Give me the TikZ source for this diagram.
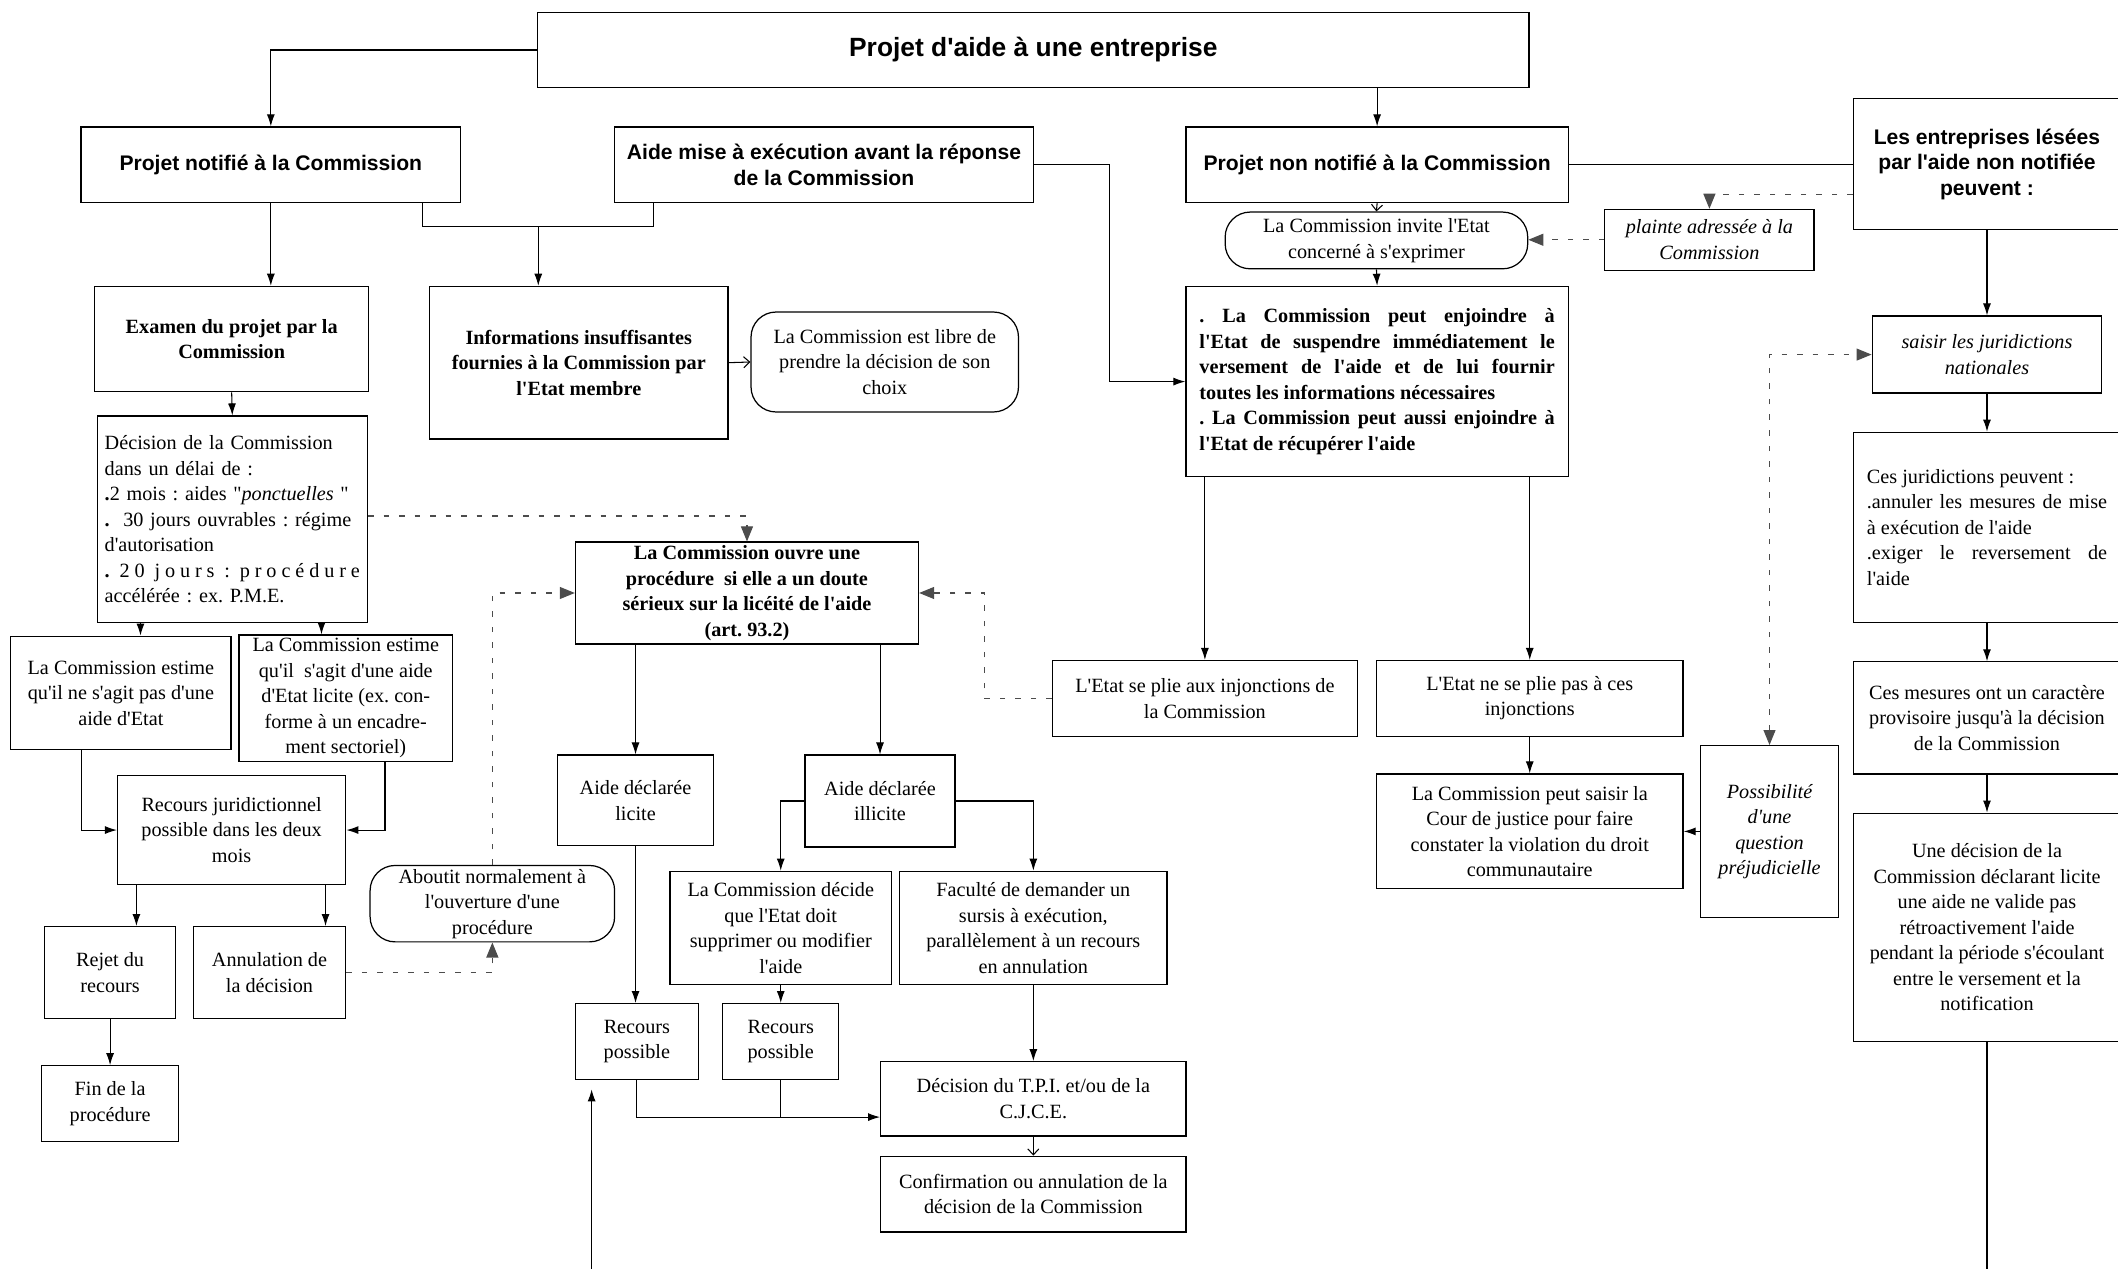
\documentclass[tikz,border=0pt]{standalone}
\usepackage{fontspec}
\setmainfont{Liberation Serif}[Ligatures=TeXOff]
\setsansfont{Liberation Sans}[Ligatures=TeXOff]
\usetikzlibrary{arrows.meta}
\frenchspacing

\newcommand{\pu}{0.027cm}
\tikzset{
  box/.style={draw, rectangle, line width=0.7pt, align=center, inner sep=2pt,
    font=\fontsize{11.5}{14.5}\selectfont},
  head/.style={font=\sffamily\bfseries\fontsize{12}{14.5}\selectfont},
  gras/.style={font=\fontsize{11.5}{14.5}\selectfont\bfseries},
  ital/.style={font=\fontsize{11.5}{14.5}\selectfont\itshape},
  rond/.style={rounded corners=0.5cm},
  fil/.style={line width=0.6pt},
  barb/.style={fil, -{Straight Barb[length=1.2mm,width=2.2mm]}},
  tirets/.style={line width=0.6pt, draw=black!70, dash pattern=on 1.1mm off 2mm,
    -{Triangle[length=3mm,width=2.4mm]}}
}

\begin{document}
\begin{tikzpicture}[x=0.027cm, y=-0.027cm, >={Latex[length=2.4mm,width=1.6mm]}]

\useasboundingbox (0,0) rectangle (1568,939);

\node[box, minimum width=734*\pu, minimum height=56*\pu, font=\sffamily\bfseries\fontsize{15}{18}\selectfont] at (765,37) (titre) {Projet d'aide à une entreprise};

\node[box, minimum width=281*\pu, minimum height=56*\pu, head] at (200.5,122) (notif) {Projet notifié à la Commission};
\node[box, minimum width=310*\pu, minimum height=56*\pu, head] at (610,122) (avant) {Aide mise à exécution avant la réponse\\de la Commission};
\node[box, minimum width=283*\pu, minimum height=56*\pu, head] at (1019.5,122) (nonnotif) {Projet non notifié à la Commission};
\node[box, minimum width=198*\pu, minimum height=97*\pu, head] at (1471,121.5) (lesees) {Les entreprises lésées\\par l'aide non notifiée\\peuvent :};

\node[box, minimum width=224*\pu, minimum height=42*\pu, rond] at (1019,178) (invite) {La Commission invite l'Etat\\concerné à s'exprimer};
\node[box, minimum width=155*\pu, minimum height=45*\pu, ital] at (1265.5,177.5) (plainte) {plainte adressée à la\\Commission};
\node[box, minimum width=283*\pu, minimum height=141*\pu, gras, align=justify, text width=7.1cm] at (1019.5,282.5) (enjoin) {. La Commission peut enjoindre à\linebreak l'Etat de suspendre immédiatement le\linebreak versement de l'aide et de lui fournir\linebreak toutes les informations nécessaires\\. La Commission peut aussi enjoindre à\linebreak l'Etat de récupérer l'aide};

\node[box, minimum width=203*\pu, minimum height=78*\pu, gras] at (171.5,251) (examen) {Examen du projet par la\\Commission};
\node[box, minimum width=221*\pu, minimum height=113*\pu, gras] at (428.5,268.5) (info) {Informations insuffisantes\\fournies à la Commission par\\l'Etat membre};
\node[box, minimum width=198*\pu, minimum height=74*\pu, rond] at (655,268) (libre) {La Commission est libre de\\prendre la décision de son\\choix};

\node[box, minimum width=200*\pu, minimum height=153*\pu, align=left, text width=5.1cm] at (172,384.5) (decision) {Décision de la Commission\\dans un délai de :\\\textbf{.}2 mois : aides "\textit{ponctuelles} "\\\textbf{.}~ 30 jours ouvrables : régime\\d'autorisation\\\makebox[\hsize][s]{\textbf{.}\hfill\hfill 2\hfill 0\hfill\hfill j\hfill o\hfill u\hfill r\hfill s\hfill\hfill :\hfill\hfill p\hfill r\hfill o\hfill c\hfill é\hfill d\hfill u\hfill r\hfill e}\\accélérée : ex. P.M.E.};

\node[box, minimum width=163*\pu, minimum height=84*\pu] at (89.5,513) (estime1) {La Commission estime\\qu'il ne s'agit pas d'une\\aide d'Etat};
\node[box, minimum width=158*\pu, minimum height=92*\pu] at (256,517) (estime2) {La Commission estime\\qu'il~ s'agit d'une aide\\d'Etat licite (ex. con-\\forme à un encadre-\\ment sectoriel)};
\node[box, minimum width=169*\pu, minimum height=81*\pu] at (171.5,614.5) (recours) {Recours juridictionnel\\possible dans les deux\\mois};
\node[box, minimum width=97*\pu, minimum height=68*\pu] at (81.5,720) (rejet) {Rejet du\\recours};
\node[box, minimum width=113*\pu, minimum height=68*\pu] at (199.5,720) (annul) {Annulation de\\la décision};
\node[box, minimum width=101*\pu, minimum height=56*\pu] at (81.5,817) (fin) {Fin de la\\procédure};
\node[box, minimum width=181*\pu, minimum height=56*\pu, rond] at (364.5,669) (aboutit) {Aboutit normalement à\\l'ouverture d'une\\procédure};

\node[box, minimum width=254*\pu, minimum height=70*\pu, gras] at (553,439) (procedure) {La Commission ouvre une\\procédure~ si elle a un doute\\sérieux sur la licéité de l'aide\\(art. 93.2)};
\node[box, minimum width=115*\pu, minimum height=67*\pu] at (470.5,592.5) (licite) {Aide déclarée\\licite};
\node[box, minimum width=111*\pu, minimum height=68*\pu] at (651.5,593) (illicite) {Aide déclarée\\illicite};
\node[box, minimum width=164*\pu, minimum height=84*\pu] at (578,687) (decide) {La Commission décide\\que l'Etat doit\\supprimer ou modifier\\l'aide};
\node[box, minimum width=198*\pu, minimum height=84*\pu] at (765,687) (faculte) {Faculté de demander un\\sursis à exécution,\\parallèlement à un recours\\en annulation};
\node[box, minimum width=91*\pu, minimum height=56*\pu] at (471.5,771) (recpos1) {Recours\\possible};
\node[box, minimum width=86*\pu, minimum height=56*\pu] at (578,771) (recpos2) {Recours\\possible};
\node[box, minimum width=226*\pu, minimum height=55*\pu] at (765,813.5) (tpi) {Décision du T.P.I. et/ou de la\\C.J.C.E.};
\node[box, minimum width=226*\pu, minimum height=56*\pu] at (765,884) (confirm) {Confirmation ou annulation de la\\décision de la Commission};

\node[box, minimum width=226*\pu, minimum height=56*\pu] at (892,517) (etatplie) {L'Etat se plie aux injonctions de\\la Commission};
\node[box, minimum width=227*\pu, minimum height=56*\pu] at (1132.5,517) (etatnon) {L'Etat ne se plie pas à ces\\injonctions};
\node[box, minimum width=227*\pu, minimum height=85*\pu] at (1132.5,615.5) (cour) {La Commission peut saisir la\\Cour de justice pour faire\\constater la violation du droit\\communautaire};
\node[box, minimum width=102*\pu, minimum height=127*\pu, ital] at (1310,615.5) (question) {Possibilité\\d'une\\question\\préjudicielle};

\node[box, minimum width=170*\pu, minimum height=57*\pu, ital] at (1471,262.5) (jurid) {saisir les juridictions\\nationales};
\node[box, minimum width=198*\pu, minimum height=141*\pu, align=justify, text width=4.8cm] at (1471,390.5) (cesjur) {Ces juridictions peuvent :\\.annuler les mesures de mise\linebreak à exécution de l'aide\\.exiger le reversement de\linebreak l'aide};
\node[box, minimum width=198*\pu, minimum height=83*\pu] at (1471,531.5) (mesures) {Ces mesures ont un caractère\\provisoire jusqu'à la décision\\de la Commission};
\node[box, minimum width=198*\pu, minimum height=169*\pu] at (1471,686.5) (decl) {Une décision de la\\Commission déclarant licite\\une aide ne valide pas\\rétroactivement l'aide\\pendant la période s'écoulant\\entre le versement et la\\notification};

\coordinate (bas) at (438,945);
\coordinate (fond) at (1471,945);
\coordinate (jinfo) at (398.5,168);

\draw[fil, ->] (titre.west) -| (notif.north);
\draw[fil, ->] (titre.south-|nonnotif.north) -- (nonnotif.north);
\draw[fil, ->] (notif.south) -- (notif.south|-examen.north);
\draw[fil] (notif.south-|313,0) |- (jinfo) -| (avant.south-|484,0);
\draw[fil, ->] (jinfo) -- (jinfo|-info.north);
\draw[fil, ->] (avant.east) -- ++(56,0) |- (enjoin.west);
\draw[fil] (nonnotif.east) -- (nonnotif.east-|lesees.west);
\draw[barb] (nonnotif.south) -- (invite.north);
\draw[fil, ->] (invite.south) -- (enjoin.north);
\draw[tirets] (plainte.west) -- (plainte.west-|invite.east);
\draw[tirets] (lesees.west|-0,144) -| (plainte.north);

\draw[fil, ->] (examen.south) -- (decision.north);
\draw[barb] (info.east) -- (libre.west);
\draw[tirets] (decision.east|-0,382) -| (procedure.north);
\draw[fil, ->] (decision.south-|104,0) -- (estime1.north-|104,0);
\draw[fil, ->] (decision.south-|238,0) -- (estime2.north-|238,0);
\draw[fil, ->] (estime1.south-|60,0) |- (recours.west);
\draw[fil, ->] (estime2.south-|285,0) |- (recours.east);
\draw[fil, ->] (recours.south-|101,0) -- (rejet.north-|101,0);
\draw[fil, ->] (recours.south-|241,0) -- (annul.north-|241,0);
\draw[fil, ->] (rejet.south) -- (fin.north);
\draw[tirets] (annul.east) -| (aboutit.south);
\draw[tirets] (aboutit.north) |- (procedure.west);
\draw[tirets] (etatplie.west) -- ++(-50,0) |- (procedure.east);

\draw[fil, ->] (procedure.south-|licite.north) -- (licite.north);
\draw[fil, ->] (procedure.south-|illicite.north) -- (illicite.north);
\draw[fil, ->] (illicite.west) -| (decide.north);
\draw[fil, ->] (illicite.east) -| (faculte.north);
\draw[fil, ->] (licite.south) -- (licite.south|-recpos1.north);
\draw[fil, ->] (decide.south) -- (recpos2.north);
\draw[fil, ->] (recpos1.south) |- (tpi.west|-0,827);
\draw[fil] (recpos2.south) -- (recpos2.south|-0,827);
\draw[fil, ->] (faculte.south) -- (tpi.north);
\draw[barb] (tpi.south) -- (confirm.north);
\draw[fil, ->] (bas) -- ([yshift=-1.9mm]recpos1.south-|bas);

\draw[fil, ->] (enjoin.south-|etatplie.north) -- (etatplie.north);
\draw[fil, ->] (enjoin.south-|etatnon.north) -- (etatnon.north);
\draw[fil, ->] (etatnon.south) -- (cour.north);
\draw[fil, ->] (question.west) -- (cour.east);
\draw[tirets, {Triangle[length=3mm,width=2.4mm]}-{Triangle[length=3mm,width=2.4mm]}] (question.north) |- (jurid.west);

\draw[fil, ->] (lesees.south) -- (jurid.north);
\draw[fil, ->] (jurid.south) -- (cesjur.north);
\draw[fil, ->] (cesjur.south) -- (mesures.north);
\draw[fil, ->] (mesures.south) -- (decl.north);
\draw[fil] (decl.south) -- (fond);

\end{tikzpicture}
\end{document}
